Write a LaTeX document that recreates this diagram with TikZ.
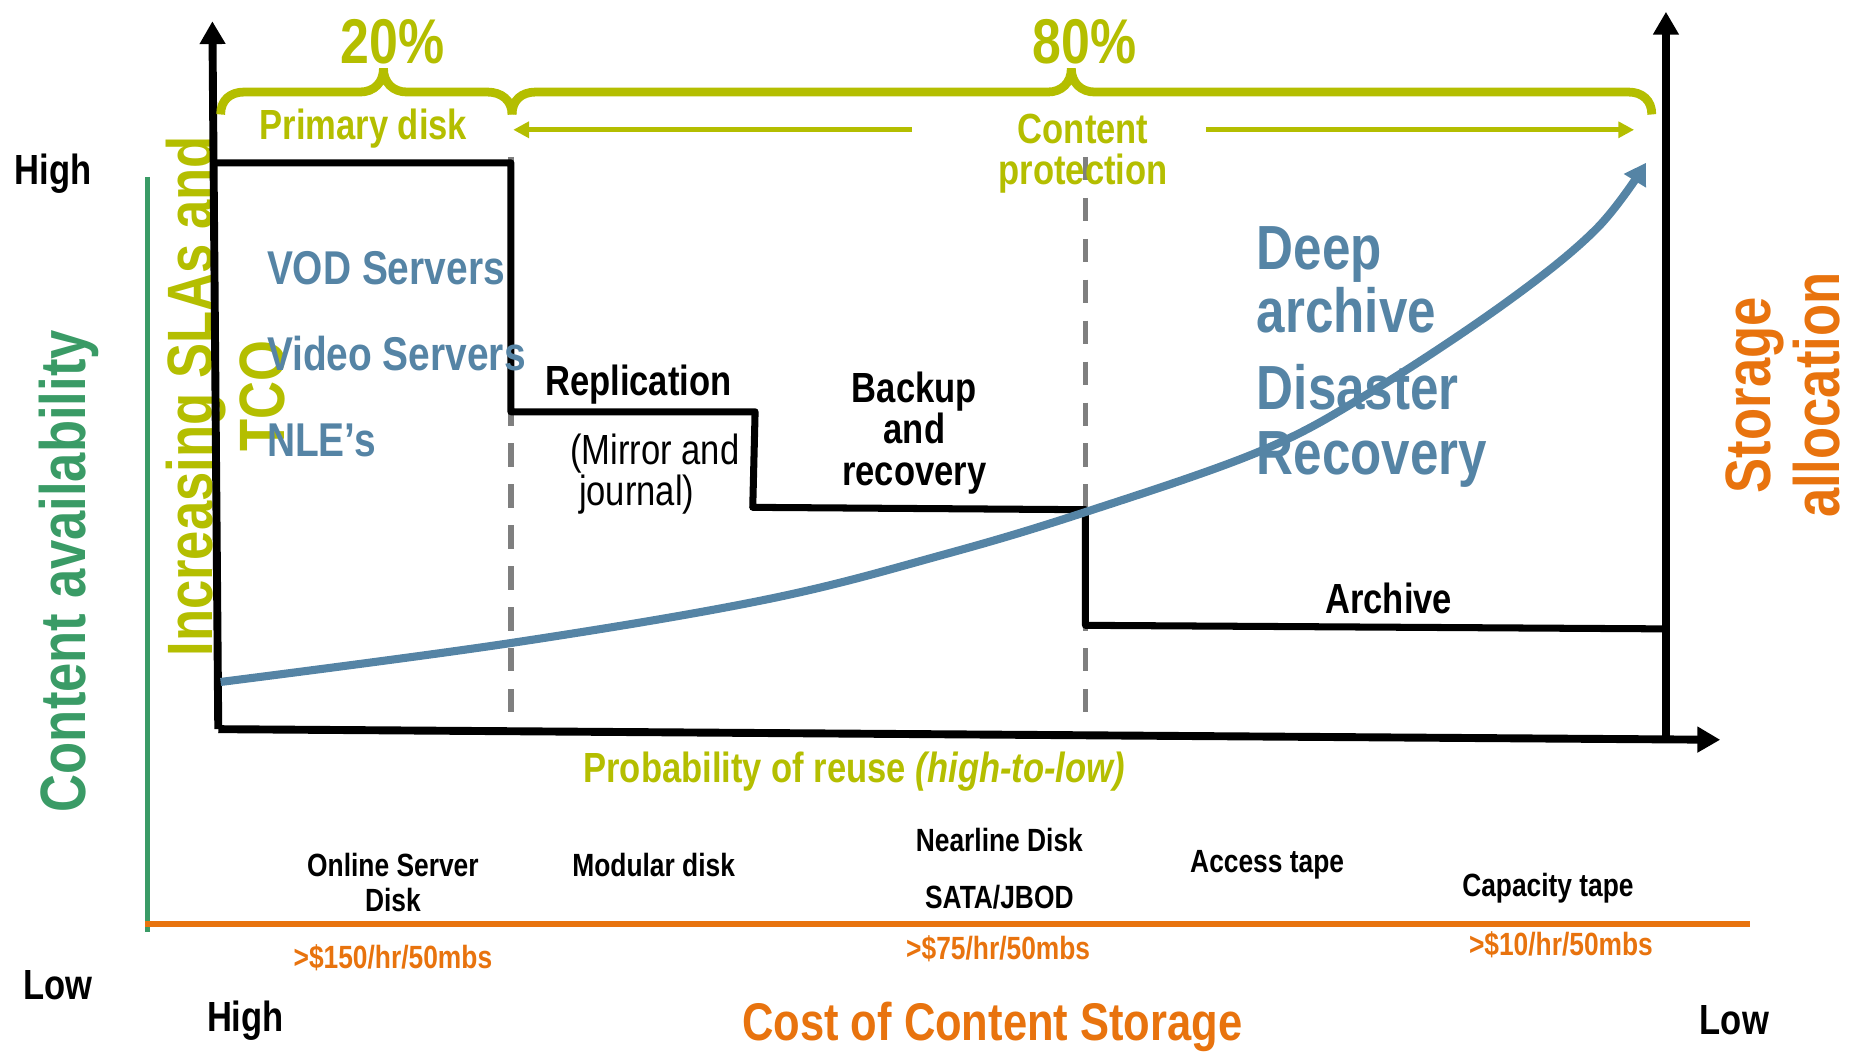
\documentclass[tikz,border=0pt]{standalone}
\usepackage{fontspec}
\setmainfont[FakeStretch=0.82]{Liberation Sans}
\usetikzlibrary{arrows.meta}

\definecolor{slagreen}{HTML}{B4BE00}
\definecolor{curveblue}{HTML}{5584A5}
\definecolor{availgreen}{HTML}{3A9B66}
\definecolor{costorange}{HTML}{E8730E}
\definecolor{tiergray}{HTML}{7F7F7F}

\tikzset{
  lbl/.style={inner sep=0pt,font=\bfseries\fontsize{24}{23.5}\selectfont},
  small/.style={inner sep=0pt,font=\bfseries\fontsize{18.3}{20}\selectfont},
  side/.style={inner sep=0pt,rotate=90,align=center,font=\bfseries\fontsize{36.5}{41}\selectfont},
  app/.style={inner sep=0pt,anchor=west,align=left,text=curveblue,font=\bfseries\fontsize{27}{28}\selectfont},
  axis/.style={line width=4.5pt,-{Triangle[length=13pt,width=14pt]}},
  brace/.style={slagreen,line width=5pt},
  protarrow/.style={slagreen,line width=2.7pt,-{Triangle[length=9pt,width=9pt]}}
}

\begin{document}
\begin{tikzpicture}[x=0.0236cm,y=-0.0236cm]
  \useasboundingbox (0,0) rectangle (1568,891);
  % side titles
  \node[side,text=availgreen] (avail) at (58,484) {Content availability};
  \node[side,text=slagreen] (sla) at (191,336) {Increasing SLAs and\\TCO};
  \node[side,text=costorange,font=\bfseries\fontsize{36.5}{39}\selectfont] (alloc) at (1511,335) {Storage\\allocation};
  \draw[availgreen,line width=2.5pt](125,150)--(125,790);
  \draw[costorange,line width=3.2pt](123,783)--(1483,783);

  % tier borders
  \foreach \x in {433,920}{
    \draw[tiergray,line width=3.2pt,dash pattern=on 13.3pt off 10pt](\x,133)--(\x,612);
  }
  % storage steps
  \draw[line width=4pt,line join=round](183,138)--(433,138)--(433,349)--(640,349)--(638,430)
    --(920,432)--(920,530)--(1410,533);

  % axes
  \coordinate (O) at (185,618);
  \coordinate (R) at (1412,628);
  \draw[axis](O)--(180,18);
  \draw[axis](O)--(1458,627);
  \draw[axis](R)--(1412,10);

  % cost curve
  \draw[curveblue,line width=4.6pt,-{Triangle[length=12pt,width=14pt]}]
    plot[smooth,tension=0.6] coordinates {(187,578) (433,545) (650,508) (800,470) (920,434)
      (1069,382) (1164,331) (1277,256) (1353,194) (1395,138)};

  % braces
  \draw[brace](187,97) .. controls (187,85) and (195,78) .. (207,78)--(305,78)
    .. controls (317,78) and (325,70) .. (325,58) .. controls (325,70) and (333,78) .. (345,78)
    --(413,78) .. controls (425,78) and (434,85) .. (434,97);
  \draw[brace](434,97) .. controls (434,85) and (442,78) .. (454,78)--(888,78)
    .. controls (900,78) and (908,70) .. (908,58) .. controls (908,70) and (916,78) .. (928,78)
    --(1380,78) .. controls (1392,78) and (1400,85) .. (1400,97);
  \node[lbl,text=slagreen,font=\bfseries\fontsize{36}{36}\selectfont] (p20) at (333,35) {20\%};
  \node[lbl,text=slagreen,font=\bfseries\fontsize{36}{36}\selectfont] (p80) at (919,35) {80\%};
  \node[lbl,text=slagreen] (prim) at (308,109) {Primary disk};
  \node[lbl,text=slagreen,align=center] (prot) at (918,130) {Content\\protection};
  \coordinate (protL) at (773,110);
  \coordinate (protLend) at (435,110);
  \coordinate (protR) at (1022,110);
  \coordinate (protRend) at (1385,110);
  \draw[protarrow](protL)--(protLend);
  \draw[protarrow](protR)--(protRend);

  % labels in the chart
  \node[app] (vod) at (226,227) {VOD Servers};
  \node[app] (video) at (226,300) {Video Servers};
  \node[app] (nle) at (226,373) {NLE’s};
  \node[lbl] (repl) at (541,326) {Replication};
  \node[lbl,font=\fontsize{24}{23.5}\selectfont,align=left] (mirror) at (555,402) {(Mirror and\\\hspace{5pt}journal)};
  \node[lbl,align=center] (backup) at (775,367) {Backup\\and\\recovery};
  \node[lbl] (archive) at (1177,507) {Archive};
  \node[app,font=\bfseries\fontsize{35.5}{36}\selectfont] (deep) at (1065,237) {Deep\\archive};
  \node[app,font=\bfseries\fontsize{35.5}{37}\selectfont] (disaster) at (1065,361) {Disaster\\Recovery};
  \node[lbl,text=slagreen] (reuse) at (724,654) {Probability of reuse \textit{(high-to-low)}};

  % storage tiers and costs
  \foreach \x/\y/\t [count=\i] in {333/748/{Online Server\\Disk}, 554/733/{Modular disk},
    847/712/{Nearline Disk}, 847/760/{SATA/JBOD}, 1074/733/{Access tape}, 1312/753/{Capacity tape}}{
    \node[small,align=center] (tier\i) at (\x,\y) {\t};
  }
  \foreach \x/\y/\t [count=\i] in {333/812/{>\$150/hr/50mbs}, 846/804/{>\$75/hr/50mbs},
    1323/801/{>\$10/hr/50mbs}}{
    \node[small,text=costorange] (cost\i) at (\x,\y) {\t};
  }

  % axis ends
  \node[lbl] (hiL) at (45,147) {High};
  \node[lbl] (loL) at (49,835) {Low};
  \node[lbl] (hiB) at (208,865) {High};
  \node[lbl,text=costorange,font=\bfseries\fontsize{30.2}{32}\selectfont] (costT) at (841,870) {Cost of Content Storage};
  \node[lbl] (loB) at (1470,865) {Low};
\end{tikzpicture}
\end{document}
